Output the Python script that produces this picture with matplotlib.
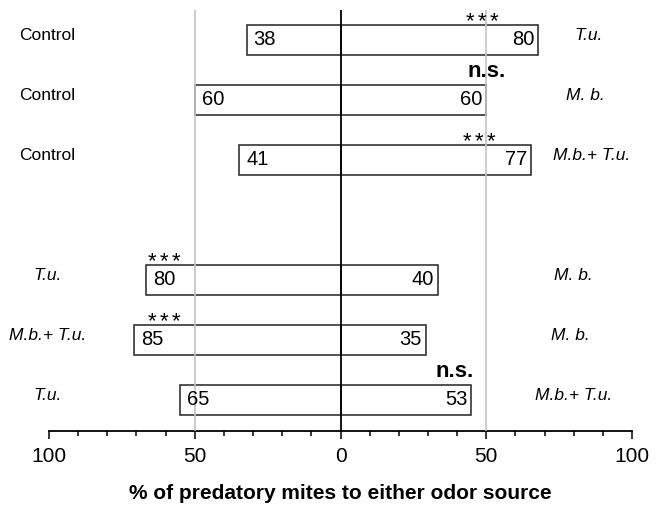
import numpy as np
import matplotlib.pyplot as plt
from matplotlib.ticker import MultipleLocator, FuncFormatter

plt.rcParams['font.family'] = ['Liberation Sans', 'DejaVu Sans']

left_labels = ["Control", "Control", "Control", "T.u.", "M.b.+ T.u.", "T.u."]
right_labels = ["T.u.", "M. b.", "M.b.+ T.u.", "M. b.", "M. b.", "M.b.+ T.u."]
left_n = [38, 60, 41, 80, 85, 65]
right_n = [80, 60, 77, 40, 35, 53]
signif = ["***", "n.s.", "***", "***", "***", "n.s."]

left_n = np.array(left_n, dtype=float)
right_n = np.array(right_n, dtype=float)
left_pct = left_n / (left_n + right_n) * 100
right_pct = right_n / (left_n + right_n) * 100

# row layout (gap between the two groups)
y_pos = [0, 1, 2, 4, 5, 6]
sig_x = [48.5, 50, 47.5, -60.5, -60.5, 39]
right_label_x = [85, 84, 86, 80, 79, 80]

fig = plt.figure(figsize=(6.62, 5.05), dpi=100)
ax = fig.add_axes([49 / 662, (505 - 431) / 505, 583 / 662, 421.5 / 505])

ax.barh(y_pos, -left_pct, height=0.5, color='white', edgecolor='#222222', linewidth=1.1, zorder=2)
ax.barh(y_pos, right_pct, height=0.5, color='white', edgecolor='#222222', linewidth=1.1, zorder=2)

ax.axvline(-50, color='#c4c4c4', lw=1.2, zorder=3)
ax.axvline(50, color='#c4c4c4', lw=1.2, zorder=3)
ax.axvline(0, color='black', lw=1.3, zorder=4)

for i, y in enumerate(y_pos):
    ax.annotate(f"{int(left_n[i])}", (-left_pct[i], y), xytext=(5, 0), textcoords='offset points',
                ha='left', va='center', fontsize=14.5, zorder=5)
    ax.annotate(f"{int(right_n[i])}", (right_pct[i], y), xytext=(-2.5, 0), textcoords='offset points',
                ha='right', va='center', fontsize=14.5, zorder=5)
    ax.text(-100.5, y - 0.07, left_labels[i], ha='center', va='center', fontsize=12.5,
            style='normal' if left_labels[i] == "Control" else 'italic')
    ax.text(right_label_x[i], y - 0.07, right_labels[i], ha='center', va='center', fontsize=12.5,
            style='italic')
    if signif[i] == "n.s.":
        ax.text(sig_x[i], y - 0.47, "n.s.", ha='center', va='center', fontsize=16, fontweight='bold')
    else:
        # stars drawn one by one so they get the wider spacing of the original
        n = len(signif[i])
        for k in range(n):
            ax.annotate("*", (sig_x[i], y - 0.31), xytext=((k - (n - 1) / 2) * 8.4, 0),
                        textcoords='offset points', ha='center', va='center', fontsize=16)

ax.set_xlim(-100, 100)
ax.set_ylim(6.517, -0.508)
for s in ['top', 'left', 'right']:
    ax.spines[s].set_visible(False)
ax.spines['bottom'].set_linewidth(1.3)
ax.set_yticks([])
ax.xaxis.set_major_locator(MultipleLocator(50))
ax.xaxis.set_minor_locator(MultipleLocator(10))
ax.xaxis.set_major_formatter(FuncFormatter(lambda v, p: f"{abs(int(v))}"))
ax.tick_params(axis='x', which='major', length=5.5, width=1.1, labelsize=15, pad=6)
ax.tick_params(axis='x', which='minor', length=3.8, width=1.1)
ax.set_xlabel("% of predatory mites to either odor source", fontsize=15, fontweight='bold', labelpad=13)

fig.savefig("out.png", dpi=100)
